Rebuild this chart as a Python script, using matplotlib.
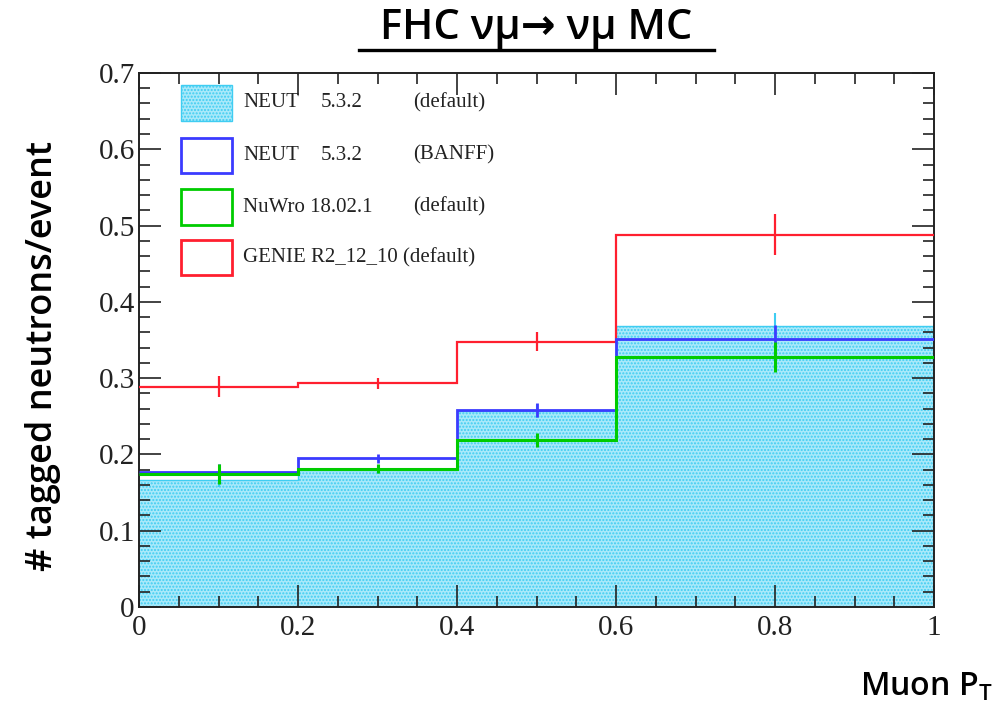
import numpy as np
import matplotlib.pyplot as plt
from matplotlib.patches import Rectangle
from matplotlib.lines import Line2D
from matplotlib.ticker import MultipleLocator

# Muon pT binning and per-generator neutron multiplicity
edges = [0.0, 0.2, 0.4, 0.6, 1.0]
neut_default = [0.167, 0.180, 0.257, 0.368]
neut_default_err = [0.010, 0.006, 0.009, 0.018]
neut_banff = [0.177, 0.195, 0.258, 0.351]
neut_banff_err = [0.010, 0.006, 0.009, 0.018]
nuwro = [0.174, 0.181, 0.219, 0.328]
nuwro_err = [0.013, 0.006, 0.009, 0.020]
genie = [0.289, 0.293, 0.348, 0.488]
genie_err = [0.014, 0.007, 0.013, 0.027]

legend_names = ["NEUT", "NEUT", "NuWro 18.02.1", "GENIE R2_12_10 (default)"]
legend_versions = ["5.3.2", "5.3.2", "", ""]
legend_tunes = ["(default)", "(BANFF)", "(default)", ""]

CYAN = '#3fcdf2'
BLUE = '#3b3bff'
GREEN = '#00cc00'
RED = '#ff1f2f'

SERIF = ['Liberation Serif', 'DejaVu Serif']
SANS = ['Open Sans', 'DejaVu Sans']

fig = plt.figure(figsize=(10.08, 7.12), dpi=100)
ax = fig.add_axes([0.1379, 0.1475, 0.7887, 0.75])

centers = [(a + b) / 2 for a, b in zip(edges[:-1], edges[1:])]

# filled reference histogram
ax.stairs(neut_default, edges, fill=True, facecolor='#a9e9fa',
          edgecolor=CYAN, hatch='.....', linewidth=0, zorder=1)
ax.stairs(neut_default, edges, baseline=None, color=CYAN, linewidth=1.0, zorder=2)
ax.errorbar(centers, neut_default, yerr=neut_default_err, fmt='none',
            ecolor=CYAN, elinewidth=1.5, zorder=2)

for vals, errs, col, lw in [(genie, genie_err, RED, 1.6),
                            (neut_banff, neut_banff_err, BLUE, 2.0),
                            (nuwro, nuwro_err, GREEN, 2.2)]:
    ax.stairs(vals, edges, baseline=None, color=col, linewidth=lw, zorder=3)
    ax.errorbar(centers, vals, yerr=errs, fmt='none', ecolor=col,
                elinewidth=lw, zorder=3)

ax.set_xlim(0, 1)
ax.set_ylim(0, 0.7)
ax.xaxis.set_major_locator(MultipleLocator(0.2))
ax.xaxis.set_minor_locator(MultipleLocator(0.05))
ax.yaxis.set_major_locator(MultipleLocator(0.1))
ax.yaxis.set_minor_locator(MultipleLocator(0.02))
ax.tick_params(which='both', direction='in', top=True, right=True,
               width=1.2, color='#222222')
ax.tick_params(which='major', length=16)
ax.tick_params(which='minor', length=8)
ax.tick_params(axis='x', which='major', pad=6)
ax.tick_params(axis='y', which='major', pad=3)
ax.set_xticks([0, 0.2, 0.4, 0.6, 0.8, 1.0])
ax.set_xticklabels(['0', '0.2', '0.4', '0.6', '0.8', '1'])
ax.set_yticks([0, 0.1, 0.2, 0.3, 0.4, 0.5, 0.6, 0.7])
ax.set_yticklabels(['0', '0.1', '0.2', '0.3', '0.4', '0.5', '0.6', '0.7'])
for lab in ax.get_xticklabels() + ax.get_yticklabels():
    lab.set_family(SERIF)
    lab.set_fontsize(21)
    lab.set_color('#222222')
for sp in ax.spines.values():
    sp.set_linewidth(1.4)
    sp.set_color('#222222')

# legend, ROOT style boxes
styles = [dict(facecolor='#a9e9fa', edgecolor=CYAN, hatch='.....', lw=1.0),
          dict(facecolor='white', edgecolor=BLUE, lw=2.0),
          dict(facecolor='white', edgecolor=GREEN, lw=2.0),
          dict(facecolor='white', edgecolor=RED, lw=2.0)]
row_y = [0.944, 0.846, 0.749, 0.654]
lkw = dict(transform=ax.transAxes, va='center', ha='left', fontsize=15,
           family=SERIF, color='#222222', zorder=5)
for y, st, name, ver, tune in zip(row_y, styles, legend_names,
                                  legend_versions, legend_tunes):
    ax.add_patch(Rectangle((0.053, y - 0.033), 0.064, 0.066,
                           transform=ax.transAxes, zorder=5, **st))
    ax.text(0.131, y, name, **lkw)
    if ver:
        ax.text(0.228, y, ver, **lkw)
    if tune:
        ax.text(0.345, y, tune, **lkw)

# title with underline
fig.text(0.532, 0.960, "FHC νμ→ νμ MC", ha='center', va='center',
         fontsize=30, family=SANS, fontweight='semibold')
fig.add_artist(Line2D([0.356, 0.708], [0.930, 0.930], color='black',
                      linewidth=2.4, transform=fig.transFigure))

fig.text(0.043, 0.50, "# tagged neutrons/event", rotation=90, ha='center',
         va='center', fontsize=26, family=SANS, fontweight='semibold')
fig.text(0.985, 0.035, r"Muon P$_\mathregular{T}$", ha='right', va='center',
         fontsize=23, family=SANS, fontweight='semibold')

fig.savefig("out.png", dpi=100)
